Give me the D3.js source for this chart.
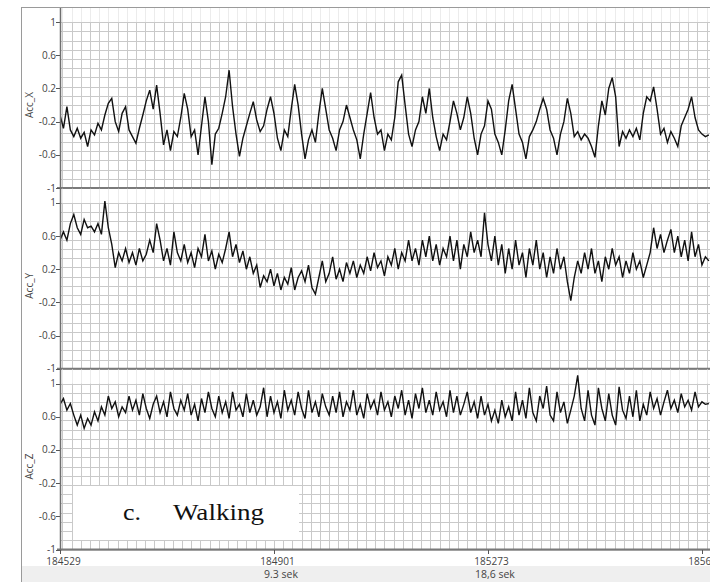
<!DOCTYPE html>
<html><head><meta charset="utf-8">
<script src="https://cdn.jsdelivr.net/npm/d3@7"></script>
<style>body{margin:0;background:#fff}svg{display:block}</style>
</head><body><svg id="c" width="710" height="582"></svg>
<script>
// ---------- data ----------
const sampleStart = 184529;
const sampleEnd = 185659;
const sampleStep = 6;
const gridStep = 16;
const seriesNames = ["Acc_X", "Acc_Y", "Acc_Z"];
const accX = [-0.12,-0.28,-0.02,-0.30,-0.38,-0.28,-0.40,-0.33,-0.50,-0.30,-0.36,-0.22,-0.30,-0.12,0.02,0.08,-0.20,-0.32,-0.10,-0.02,
-0.30,-0.38,-0.46,-0.28,-0.12,0.05,0.18,-0.05,0.24,-0.10,-0.48,-0.30,-0.55,-0.32,-0.38,-0.15,0.14,-0.05,-0.38,-0.30,
-0.60,-0.25,0.10,-0.20,-0.72,-0.35,-0.28,-0.10,0.10,0.42,-0.02,-0.35,-0.62,-0.40,-0.25,-0.10,0.04,-0.18,-0.32,-0.25,
-0.05,0.10,-0.10,-0.40,-0.55,-0.30,-0.38,-0.05,0.25,0.00,-0.35,-0.65,-0.42,-0.30,-0.45,-0.10,0.20,-0.05,-0.30,-0.40,
-0.55,-0.30,-0.20,0.00,-0.15,-0.30,-0.42,-0.65,-0.35,-0.10,0.15,-0.15,-0.35,-0.30,-0.55,-0.35,-0.42,-0.15,0.28,0.36,
0.00,-0.35,-0.50,-0.30,-0.20,0.10,-0.10,0.20,-0.15,-0.38,-0.55,-0.35,-0.42,-0.20,0.05,-0.10,-0.30,-0.15,0.10,-0.10,
-0.40,-0.60,-0.35,-0.25,0.05,-0.05,-0.35,-0.45,-0.60,-0.30,0.05,0.25,-0.05,-0.35,-0.45,-0.65,-0.38,-0.30,-0.20,-0.05,
0.08,-0.05,-0.30,-0.40,-0.60,-0.35,-0.20,0.08,-0.10,-0.38,-0.32,-0.42,-0.35,-0.40,-0.50,-0.63,-0.25,0.05,-0.12,0.20,
0.33,0.10,-0.50,-0.32,-0.40,-0.30,-0.38,-0.28,-0.42,-0.10,0.10,0.05,0.22,-0.05,-0.35,-0.28,-0.45,-0.32,-0.40,-0.50,
-0.25,-0.15,-0.05,0.10,-0.15,-0.30,-0.35,-0.38,-0.36];
const accY = [0.55,0.65,0.55,0.75,0.86,0.70,0.62,0.80,0.70,0.72,0.65,0.75,0.62,1.02,0.70,0.50,0.22,0.40,0.30,0.45,
0.28,0.40,0.25,0.45,0.30,0.38,0.55,0.40,0.75,0.55,0.30,0.45,0.25,0.65,0.40,0.30,0.50,0.28,0.40,0.22,
0.45,0.35,0.62,0.30,0.42,0.20,0.38,0.28,0.45,0.65,0.35,0.50,0.28,0.42,0.20,0.35,0.15,0.25,-0.02,0.12,
0.05,0.20,0.00,0.15,-0.05,0.10,0.02,0.22,-0.05,0.10,0.18,0.05,0.25,-0.02,-0.10,0.10,0.30,0.05,0.15,0.35,
0.08,0.20,0.05,0.28,0.15,0.30,0.10,0.25,0.15,0.35,0.18,0.40,0.22,0.30,0.12,0.35,0.25,0.45,0.20,0.40,
0.30,0.55,0.30,0.45,0.25,0.55,0.35,0.60,0.30,0.50,0.25,0.45,0.35,0.60,0.30,0.55,0.20,0.50,0.35,0.65,
0.40,0.55,0.35,0.88,0.50,0.30,0.60,0.25,0.50,0.15,0.45,0.20,0.55,0.25,0.40,0.10,0.45,0.25,0.55,0.20,
0.40,0.10,0.35,0.15,0.45,0.20,0.35,0.05,-0.18,0.10,0.30,0.15,0.40,0.20,0.45,0.15,0.30,0.05,0.35,0.20,
0.45,0.25,0.35,0.10,0.30,0.15,0.40,0.20,0.30,0.10,0.25,0.40,0.70,0.45,0.62,0.40,0.55,0.68,0.40,0.60,
0.35,0.55,0.30,0.65,0.35,0.50,0.25,0.35,0.30];
const accZ = [0.75,0.82,0.68,0.76,0.62,0.50,0.62,0.46,0.58,0.50,0.66,0.55,0.72,0.62,0.85,0.70,0.78,0.60,0.72,0.65,
0.85,0.68,0.80,0.62,0.88,0.70,0.58,0.75,0.85,0.65,0.78,0.60,0.90,0.70,0.62,0.80,0.68,0.88,0.62,0.75,
0.55,0.82,0.65,0.90,0.70,0.60,0.85,0.65,0.78,0.58,0.90,0.68,0.75,0.60,0.88,0.65,0.80,0.62,0.72,0.95,
0.60,0.85,0.65,0.78,0.58,0.92,0.68,0.80,0.62,0.90,0.70,0.58,0.92,0.65,0.78,0.60,0.88,0.72,0.62,0.85,
0.65,0.90,0.60,0.78,0.68,0.92,0.62,0.75,0.58,0.88,0.70,0.80,0.62,0.90,0.68,0.78,0.60,0.85,0.70,0.92,
0.62,0.80,0.58,0.88,0.70,0.95,0.65,0.80,0.62,0.90,0.68,0.78,0.60,0.92,0.65,0.85,0.62,0.75,0.90,0.65,
0.78,0.58,0.85,0.62,0.75,0.55,0.68,0.52,0.80,0.60,0.72,0.55,0.90,0.62,0.80,0.58,0.95,0.65,0.55,0.85,
0.70,0.97,0.62,0.55,0.90,0.65,0.78,0.52,0.68,0.85,1.10,0.70,0.55,0.92,0.62,0.50,0.95,0.70,0.55,0.88,
0.62,0.50,0.96,0.68,0.58,0.85,0.60,0.92,0.55,0.75,0.62,0.90,0.70,0.82,0.62,0.78,0.92,0.70,0.80,0.65,
0.88,0.72,0.80,0.68,0.90,0.72,0.78,0.75,0.76];
const yTicks = [1, 0.6, 0.2, -0.2, -0.6, -1];
const yTickLabels = ["1", "0.6", "0.2", "-0.2", "-0.6", "-1"];
const xTicks = [184529, 184901, 185273, 185645];
const xTickLabels = ["184529", "184901", "185273", "185645"];
const timeLabels = ["", "9.3 sek", "18,6 sek", ""];
const captionParts = ["c.", "Walking"];

// ---------- drawing ----------
const svg = d3.select("#c");
const W = 710, H = 582;
const plotL = 60, plotR = 710;
const panelH = 180, panelGap = 180.75, panelTop0 = 8;
const fontUI = "'Open Sans','Noto Sans','DejaVu Sans',sans-serif";

const x = d3.scaleLinear().domain([sampleStart, sampleEnd]).range([plotL, plotR]);

svg.append("rect").attr("width", W).attr("height", H).attr("fill", "#fff");
svg.append("rect").attr("x", 21).attr("y", 566).attr("width", W - 21).attr("height", H - 566).attr("fill", "#efefef");

const defs = svg.append("defs");
defs.append("clipPath").attr("id", "pc").append("rect")
  .attr("x", plotL).attr("y", 0).attr("width", plotR - plotL).attr("height", H);

const gridXs = d3.range(xTicks[1] - gridStep * 23, sampleEnd + 1, gridStep);
const gridYs = d3.range(0, 19).map(k => -1 + k / 9);
const allSeries = [accX, accY, accZ];

allSeries.forEach((vals, p) => {
  const top = panelTop0 + p * panelGap;
  const y = d3.scaleLinear().domain([-1, 1.17]).range([top + panelH, top]);
  const g = svg.append("g").attr("clip-path", "url(#pc)");
  g.selectAll("line.vs").data(gridXs).join("line")
    .attr("x1", d => Math.round(x(d)) + 0.5).attr("x2", d => Math.round(x(d)) + 0.5)
    .attr("y1", top).attr("y2", y(1))
    .attr("stroke", "#ececec").attr("stroke-width", 1);
  g.selectAll("line.v").data(gridXs).join("line")
    .attr("x1", d => Math.round(x(d)) + 0.5).attr("x2", d => Math.round(x(d)) + 0.5)
    .attr("y1", y(1)).attr("y2", y(-1))
    .attr("stroke", "#c9c9c9").attr("stroke-width", 1);
  g.selectAll("line.h").data(gridYs).join("line")
    .attr("x1", plotL).attr("x2", plotR)
    .attr("y1", d => Math.round(y(d)) + 0.5).attr("y2", d => Math.round(y(d)) + 0.5)
    .attr("stroke", "#c9c9c9").attr("stroke-width", 1);

  const line = d3.line()
    .x((d, i) => x(sampleStart + i * sampleStep))
    .y(d => y(d));
  g.append("path").datum(vals).attr("d", line)
    .attr("fill", "none").attr("stroke", "#111").attr("stroke-width", 1.4)
    .attr("stroke-linejoin", "miter");

  svg.append("line").attr("x1", plotL - 3).attr("x2", plotR)
    .attr("y1", y(-1)).attr("y2", y(-1))
    .attr("stroke", "#7a7a7a").attr("stroke-width", 2);

  yTicks.forEach((t, k) => {
    svg.append("line").attr("x1", plotL - 4).attr("x2", plotL)
      .attr("y1", Math.round(y(t)) + 0.5).attr("y2", Math.round(y(t)) + 0.5)
      .attr("stroke", "#555").attr("stroke-width", 1);
    svg.append("text").attr("x", plotL - 4).attr("y", y(t) + 3.5)
      .attr("text-anchor", "end").attr("font-family", fontUI).attr("font-size", 10)
      .attr("fill", "#444").text(yTickLabels[k]);
  });
  svg.append("text")
    .attr("transform", `translate(33,${y(0)}) rotate(-90)`)
    .attr("text-anchor", "middle").attr("font-family", fontUI).attr("font-size", 10)
    .attr("fill", "#444").text(seriesNames[p]);

  if (p === 2) {
    svg.append("rect").attr("x", 73).attr("y", 486).attr("width", 226).attr("height", 54).attr("fill", "#fff");
    svg.append("text").attr("x", 123).attr("y", 520)
      .attr("font-family", "'Liberation Serif','Times New Roman',serif").attr("font-size", 23)
      .attr("textLength", 18).attr("lengthAdjust", "spacingAndGlyphs")
      .attr("fill", "#111").text(captionParts[0]);
    svg.append("text").attr("x", 173).attr("y", 520)
      .attr("font-family", "'Liberation Serif','Times New Roman',serif").attr("font-size", 23)
      .attr("textLength", 91).attr("lengthAdjust", "spacingAndGlyphs")
      .attr("fill", "#111").text(captionParts[1]);
  }
});

svg.append("line").attr("x1", 21.5).attr("x2", 21.5).attr("y1", 7).attr("y2", H).attr("stroke", "#9a9a9a");
svg.append("line").attr("x1", 21).attr("x2", W).attr("y1", 7.5).attr("y2", 7.5).attr("stroke", "#9a9a9a");
svg.append("line").attr("x1", plotL + 0.5).attr("x2", plotL + 0.5).attr("y1", 8).attr("y2", 551)
  .attr("stroke", "#6f6f6f").attr("stroke-width", 1.5);

xTicks.forEach((t, k) => {
  const xp = Math.round(x(t)) + 0.5;
  svg.append("line").attr("x1", xp).attr("x2", xp).attr("y1", 550).attr("y2", 554)
    .attr("stroke", "#555");
  svg.append("text").attr("x", x(t) + 3.5).attr("y", 565)
    .attr("text-anchor", "middle").attr("font-family", fontUI).attr("font-size", 10)
    .attr("fill", "#444").text(xTickLabels[k]);
  if (timeLabels[k]) {
    svg.append("text").attr("x", x(t) + 7).attr("y", 577.5)
      .attr("text-anchor", "middle").attr("font-family", fontUI).attr("font-size", 10.5)
      .attr("fill", "#444").text(timeLabels[k]);
  }
});
</script></body></html>
